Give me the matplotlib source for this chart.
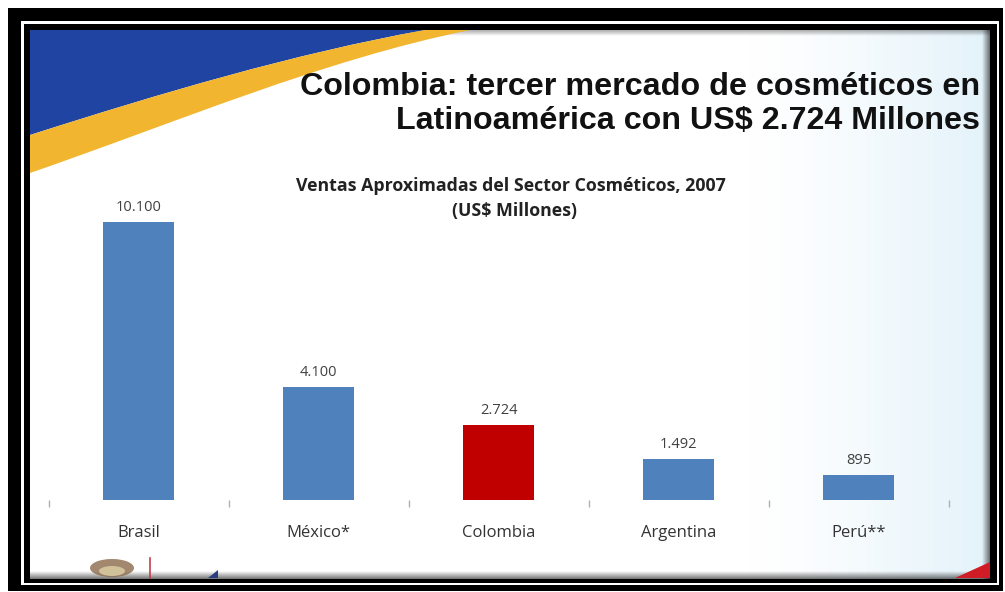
import numpy as np
import matplotlib
matplotlib.use("Agg")
import matplotlib.pyplot as plt
from matplotlib.path import Path
from matplotlib.patches import PathPatch, Rectangle, Polygon, Ellipse

# ---- data ----
countries = ["Brasil", "México*", "Colombia", "Argentina", "Perú**"]
sales = [10100, 4100, 2724, 1492, 895]
value_labels = ["10.100", "4.100", "2.724", "1.492", "895"]
highlight = "Colombia"

title_lines = ["Colombia: tercer mercado de cosméticos en",
               "Latinoamérica con US$ 2.724 Millones"]
chart_title = ["Ventas Aproximadas del Sector Cosméticos, 2007", "(US$ Millones)"]

W, H = 1005, 592
fig = plt.figure(figsize=(W / 100, H / 100), dpi=100)
fig.patch.set_facecolor("white")

# full-figure decoration axes in pixel coordinates
bg = fig.add_axes([0, 0, 1, 1])
bg.set_xlim(0, W)
bg.set_ylim(H, 0)
bg.axis("off")

# frame
bg.add_patch(Rectangle((8, 8), 995, 583, facecolor="black", edgecolor="none"))
bg.add_patch(Rectangle((21, 21), 978, 564, facecolor="white", edgecolor="none"))
bg.add_patch(Rectangle((24, 24), 973, 559, facecolor="black", edgecolor="none"))

# slide background with light-blue gradient on the right
sx0, sx1, sy0, sy1 = 30, 990, 30, 579
grad = np.linspace(0, 1, 400)
grad = np.clip((grad - 0.75) / 0.25, 0, 1) ** 1.3
c0 = np.array([1.0, 1.0, 1.0])
c1 = np.array([0.89, 0.95, 0.98])
img = c0[None, None, :] * (1 - grad[None, :, None]) + c1[None, None, :] * grad[None, :, None]
img = np.repeat(img, 2, axis=0)
bg.imshow(img, extent=[sx0, sx1, sy1, sy0], aspect="auto", zorder=1, interpolation="bilinear")

# edge shadows
shade = np.linspace(0, 1, 50)[:, None, None] * np.ones((1, 2, 1))
rgba = np.concatenate([np.zeros((50, 2, 3)), shade * 0.55], axis=2)
bg.imshow(rgba, extent=[sx0, sx1, sy1, sy1 - 8], aspect="auto", zorder=2)
rgba_r = np.transpose(rgba, (1, 0, 2))
bg.imshow(rgba_r, extent=[sx1 - 8, sx1, sy1, sy0], aspect="auto", zorder=2)
rgba_t = rgba[::-1]
bg.imshow(rgba_t * np.array([1, 1, 1, 0.6]), extent=[sx0, sx1, sy0 + 6, sy0], aspect="auto", zorder=2)

# swoosh (cubic Bezier edges)
C4 = Path.CURVE4
blue_path = Path([(30, 30), (425, 30), (293.3, 53.9), (161.7, 92.9), (30, 135), (30, 30)],
                 [Path.MOVETO, Path.LINETO, C4, C4, C4, Path.CLOSEPOLY])
bg.add_patch(PathPatch(blue_path, facecolor="#2044a2", edgecolor="none", zorder=3))
yellow_path = Path([(470, 30), (323.3, 59.7), (176.7, 122.3), (30, 173),
                    (30, 135), (161.7, 92.9), (293.3, 53.9), (425, 30), (470, 30)],
                   [Path.MOVETO, C4, C4, C4, Path.LINETO, C4, C4, C4, Path.CLOSEPOLY])
bg.add_patch(PathPatch(yellow_path, facecolor="#f1b52f", edgecolor="none", zorder=3))

# bottom decorations
bg.add_patch(Ellipse((112, 568), 44, 18, facecolor="#8a6a4a", edgecolor="none", alpha=0.8, zorder=3))
bg.add_patch(Ellipse((112, 571), 26, 10, facecolor="#d8c9a0", edgecolor="none", alpha=0.9, zorder=3))
bg.plot([150, 150], [558, 578], color="#c04050", lw=1.2, zorder=3)
bg.add_patch(Polygon([(208, 578), (218, 570), (218, 578)], facecolor="#2a3f80", edgecolor="none", zorder=3))
bg.add_patch(Polygon([(955, 578), (990, 562), (990, 578)], facecolor="#d01c24", edgecolor="none", zorder=3))

# title
bg.text(980, 95, title_lines[0], ha="right", va="baseline", fontsize=23.2,
        fontweight="bold", family="Liberation Sans", color="#111111", zorder=4)
bg.text(980, 129, title_lines[1], ha="right", va="baseline", fontsize=23.2,
        fontweight="bold", family="Liberation Sans", color="#111111", zorder=4)

# chart title
bg.text(511, 186, chart_title[0], ha="center", va="center", fontsize=12.8,
        fontweight="bold", family="Open Sans", color="#222222", zorder=4)
bg.text(515, 211, chart_title[1], ha="center", va="center", fontsize=12.8,
        fontweight="bold", family="Open Sans", color="#222222", zorder=4)

# chart axes
ax_left, ax_right = 48.5, 948.5
ax_bottom, ax_top = 500, 170
ax = fig.add_axes([ax_left / W, 1 - ax_bottom / H, (ax_right - ax_left) / W, (ax_bottom - ax_top) / H])
ax.patch.set_alpha(0)
x = np.arange(len(countries))
colors = ["#c00000" if c == highlight else "#4f81bd" for c in countries]
bars = ax.bar(x, sales, width=0.395, color=colors, zorder=3)
ax.set_xlim(-0.5, len(countries) - 0.5)
ax.set_ylim(0, 12000)
for xi, v, lab in zip(x, sales, value_labels):
    ax.annotate(lab, (xi, v), xytext=(0, 10.5), textcoords="offset points",
                ha="center", va="center", fontsize=10.5, family="Open Sans", color="#404040")
for s in ax.spines.values():
    s.set_visible(False)
ax.set_yticks([])
ax.set_xticks(x)
ax.set_xticklabels(countries, fontsize=12, family="Open Sans", color="#333333")
ax.tick_params(axis="x", which="major", length=0, pad=18)
ax.set_xticks(np.arange(-0.5, len(countries)), minor=True)
ax.tick_params(axis="x", which="minor", length=5, width=1, color="#b0b0b0")

fig.savefig("out.png", dpi=100)
